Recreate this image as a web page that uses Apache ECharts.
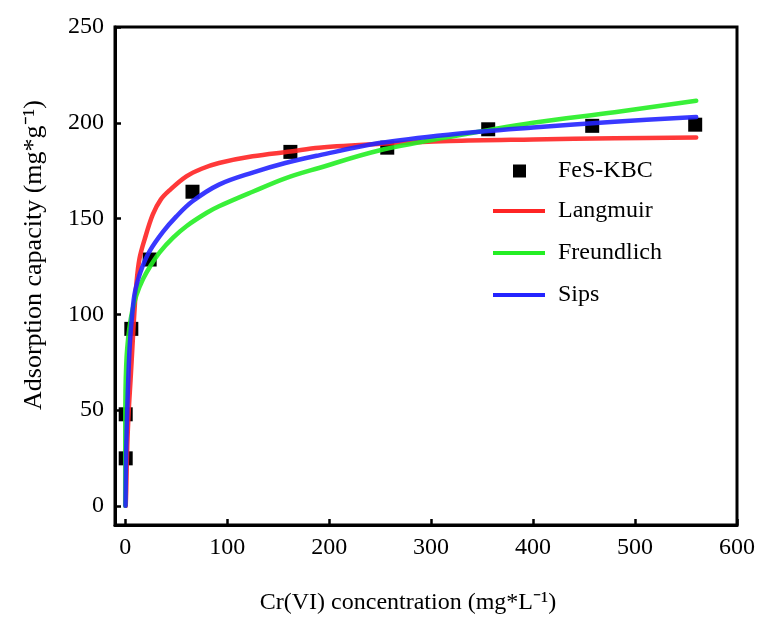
<!DOCTYPE html>
<html>
<head>
<meta charset="utf-8">
<script src="https://cdn.jsdelivr.net/npm/echarts@6/dist/echarts.min.js"></script>
<style>
html,body{margin:0;padding:0;background:#fff;}
#chart{width:758px;height:620px;}
</style>
</head>
<body>
<div id="chart"></div>
<script>
// ---- data ----
const xTicks = [0, 100, 200, 300, 400, 500, 600];
const yTicks = [0, 50, 100, 150, 200, 250];

const seriesNames = ['FeS-KBC', 'Langmuir', 'Freundlich', 'Sips'];

// experimental points [Ce, qe]
const expC = [0.5, 0.5, 6, 24, 66, 162, 257, 356, 458, 559];
const expQ = [24.8, 47.8, 92.4, 128.6, 164, 184.8, 187, 196.6, 198.4, 199];

// fitted curves
const langC = [0.5, 1, 2, 3.5, 5.3, 7.2, 9, 11, 14, 19, 27, 35, 44, 60, 75, 92, 125, 162, 190, 250, 318, 400, 480, 560];
const langQ = [0, 8, 31, 50, 66, 84, 101, 116, 129, 139, 152, 160, 165, 172, 176, 179, 182.5, 185, 187, 189, 190.5, 191.3, 191.9, 192.3];

const freuC = [0, 0.05, 0.3, 1, 2, 4, 7, 11, 17.6, 25, 34, 47, 60, 80, 92, 125, 157, 190, 249, 317, 400, 480, 560];
const freuQ = [0, 40, 60, 73.5, 82.5, 92.5, 102, 110, 118.5, 125.5, 132.5, 140, 146, 153, 156.4, 164, 171, 176.4, 185.5, 192.5, 200, 205.5, 211.5];

const sipsC = [0.3, 1, 2, 3, 4.5, 6.5, 9, 12, 17, 24, 37, 50, 66, 92, 125, 157, 190, 249, 317, 400, 480, 560];
const sipsQ = [0, 30, 50, 66, 84, 98, 110, 117, 125, 133, 143, 151, 159, 167.7, 174, 179, 183, 189.4, 193.8, 197.5, 200.5, 203];

const colors = {scatter: '#000000', lang: '#ff2424', freu: '#24ee24', sips: '#2424ff'};

function pairs(xs, ys) { return xs.map((x, i) => [x, ys[i]]); }

const FONT = 'Liberation Serif, Times New Roman, serif';

const chart = echarts.init(document.getElementById('chart'), null, {renderer: 'canvas'});

const lineCommon = (name, color, xs, ys) => ({
  name: name,
  type: 'line',
  data: pairs(xs, ys),
  showSymbol: false,
  symbol: 'none',
  smooth: 0.35,
  lineStyle: {color: color, width: 4.5, cap: 'round', join: 'round', opacity: 0.9},
  itemStyle: {color: color},
  z: 3
});

chart.setOption({
  animation: false,
  backgroundColor: '#ffffff',
  grid: {left: 115, right: 18, top: 27, bottom: 94, show: true, borderColor: '#000', borderWidth: 3, backgroundColor: 'transparent'},
  legend: [
    {
      data: [seriesNames[0]],
      left: 513, top: 159, orient: 'vertical', padding: 0,
      itemWidth: 13, itemHeight: 13, icon: 'rect',
      textStyle: {fontFamily: FONT, fontSize: 24, color: '#000', padding: [0, 0, 0, 27], lineHeight: 22}
    },
    {
      data: seriesNames.slice(1),
      left: 493, top: 199, orient: 'vertical', padding: 0,
      itemWidth: 52, itemHeight: 4, itemGap: 18, icon: 'rect',
      textStyle: {fontFamily: FONT, fontSize: 24, color: '#000', padding: [0, 0, 0, 8], lineHeight: 23}
    }
  ],
  xAxis: {
    type: 'value', min: -10, max: 600,
    name: 'Cr(VI) concentration (mg*L\u207B\u00B9)',
    nameLocation: 'middle', nameGap: 66,
    nameTextStyle: {fontFamily: FONT, fontSize: 24, color: '#000', padding: [0, 36, 0, 0]},
    axisLine: {onZero: false, lineStyle: {color: '#000', width: 3}},
    axisTick: {inside: true, length: 6, customValues: xTicks, lineStyle: {color: '#000', width: 2.5}},
    axisLabel: {customValues: xTicks, fontFamily: FONT, fontSize: 24, color: '#000', margin: 11},
    splitLine: {show: false}
  },
  yAxis: {
    type: 'value', min: -10, max: 250,
    name: 'Adsorption capacity (mg*g\u207B\u00B9)',
    nameLocation: 'middle', nameGap: 68,
    nameTextStyle: {fontFamily: FONT, fontSize: 26, color: '#000', padding: [0, 0, 0, 42]},
    axisLine: {onZero: false, lineStyle: {color: '#000', width: 3}},
    axisTick: {inside: true, length: 6, customValues: yTicks, lineStyle: {color: '#000', width: 2.5}},
    axisLabel: {customValues: yTicks, fontFamily: FONT, fontSize: 24, color: '#000', margin: 11},
    splitLine: {show: false}
  },
  series: [
    {
      name: seriesNames[0], type: 'scatter', symbol: 'rect', symbolSize: 14,
      data: pairs(expC, expQ),
      itemStyle: {color: colors.scatter, opacity: 1}, z: 2
    },
    lineCommon(seriesNames[1], colors.lang, langC, langQ),
    lineCommon(seriesNames[2], colors.freu, freuC, freuQ),
    lineCommon(seriesNames[3], colors.sips, sipsC, sipsQ)
  ]
});
</script>
</body>
</html>
